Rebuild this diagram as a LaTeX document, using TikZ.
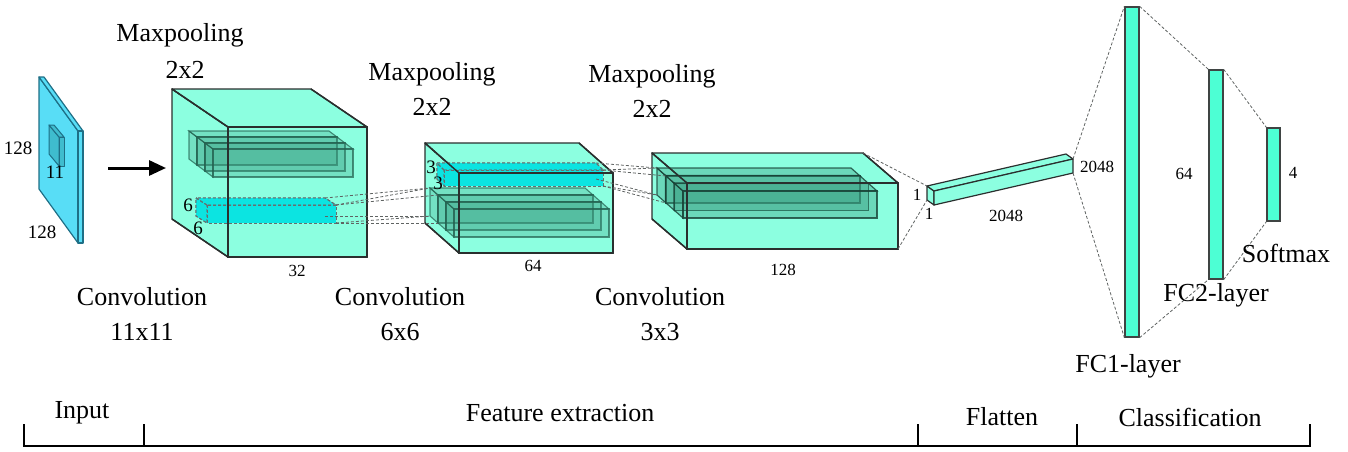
\documentclass[tikz,border=0pt]{standalone}
\usepackage{fontspec}
\setmainfont{Liberation Serif}
\usetikzlibrary{arrows.meta}

\newcommand{\Unit}{1pt}
\newcommand{\Edge}{1.4pt}
\newcommand{\LabelFont}{\fontsize{26}{30}\selectfont}
\newcommand{\DimFont}{\fontsize{17}{20}\selectfont}
\newcommand{\TickFont}{\fontsize{19}{22}\selectfont}
\definecolor{plate}{HTML}{58DDF6}
\definecolor{plateedge}{HTML}{1E6F86}
\definecolor{kernel}{HTML}{3FBCCE}
\definecolor{volume}{HTML}{8CFFE0}
\definecolor{dense}{HTML}{4DFFD4}
\definecolor{slab}{HTML}{3A9E82}
\definecolor{window}{HTML}{00E2E2}
\definecolor{ink}{HTML}{2A2F2E}

% a box seen from the front: front face at (#3,#4), #5 wide, #6 high,
% the back face pushed up and left by (#7,#8); corners are named #1-...
\newcommand{\Prism}[8]{%
  \path (#3,#4) coordinate (#1-ftl) ++(#5,0) coordinate (#1-ftr)
        ++(0,#6) coordinate (#1-fbr) ++(-#5,0) coordinate (#1-fbl);
  \path (#1-ftl) ++(-#7,-#8) coordinate (#1-btl) ++(#5,0) coordinate (#1-btr)
        ++(0,#6) coordinate (#1-bbr) ++(-#5,0) coordinate (#1-bbl);
  \draw[#2] (#1-ftl) -- (#1-btl) -- (#1-bbl) -- (#1-fbl) -- cycle;
  \draw[#2] (#1-ftl) -- (#1-btl) -- (#1-btr) -- (#1-ftr) -- cycle;
  \draw[#2] (#1-ftl) rectangle (#1-fbr);
}

\tikzset{
  platebox/.style={fill=plate, draw=plateedge, line width=1.2pt, line join=round},
  kernelbox/.style={fill=kernel, draw=plateedge, line width=1pt, line join=round},
  volumebox/.style={fill=volume, draw=ink, line width=\Edge, line join=round},
  volumeedge/.style={draw=ink, line width=\Edge, line join=round},
  featslab/.style={fill=slab, fill opacity=0.3, draw=slab!60!black,
    draw opacity=0.7, line width=1.1pt},
  deepslab/.style={fill=slab, fill opacity=0.4, draw=slab!40!black,
    draw opacity=0.8, line width=1.2pt},
  windowbox/.style={fill=window, fill opacity=0.55, draw=ink!70,
    dash pattern=on 3pt off 2pt, line width=0.9pt},
  barbox/.style={fill=volume, draw=ink, line width=1.2pt, line join=round},
  fcbar/.style={fill=dense, draw=ink!90, line width=1.3pt, inner sep=0pt},
  link/.style={draw=ink!75, dash pattern=on 3pt off 2pt, line width=0.8pt},
  caption/.style={font=\LabelFont, inner sep=0pt},
  dim/.style={font=\DimFont, inner sep=0pt},
  bracket/.style={line width=2.4pt, line cap=butt}
}

\begin{document}
\begin{tikzpicture}[x=\Unit,y=-\Unit]
  \useasboundingbox (0,0) rectangle (1348,451);

  % ---- input image with its kernel -----------------------------------------
  \Prism{inp}{platebox}{78}{131}{5}{112}{39}{54}
  \Prism{ker}{kernelbox}{59}{137}{5}{29}{10}{12}
  \node[font=\TickFont, inner sep=0pt] (inp-h) at (18,148) {128};
  \node[font=\TickFont, inner sep=0pt] (inp-w) at (42,232) {128};
  \node[font=\TickFont, inner sep=0pt] (ker-k) at (55,172) {11};

  \coordinate (into) at (108,168);
  \coordinate (c1-in) at (166,168);
  \draw[line width=3pt, -{Triangle[length=17pt,width=15pt]}] (into) -- (c1-in);

  % ---- first convolution block ---------------------------------------------
  \Prism{c1}{volumebox}{228}{127}{139}{130}{56}{38}
  \foreach \k in {0,1,2}
    \Prism{c1s\k}{featslab}{197+8*\k}{137+6*\k}{140}{28}{8}{6}
  \Prism{c1w}{windowbox}{207}{205}{129}{18}{11}{7}
  \draw[volumeedge] (c1-ftl) rectangle (c1-fbr);
  \draw[volumeedge] (c1-btl) -- (c1-ftl) (c1-btr) -- (c1-ftr) (c1-bbl) -- (c1-fbl);
  \node[dim, font=\TickFont] (c1w-a) at (188,205) {6};
  \node[dim, font=\TickFont] (c1w-b) at (198,228) {6};
  \node[dim] (c1-d) at (297,271) {32};

  % ---- second block --------------------------------------------------------
  \Prism{c2}{volumebox}{459}{173}{154}{80}{34}{30}
  \foreach \k in {0,1,2}
    \Prism{c2s\k}{featslab}{438+8*\k}{195+7*\k}{155}{28}{8}{7}
  \Prism{c2w}{windowbox}{444}{170}{159}{16}{7}{7}
  \draw[volumeedge] (c2-ftl) rectangle (c2-fbr);
  \draw[volumeedge] (c2-btl) -- (c2-ftl) (c2-btr) -- (c2-ftr) (c2-bbl) -- (c2-fbl);
  \node[dim, font=\TickFont] (c2w-a) at (431,167) {3};
  \node[dim, font=\TickFont] (c2w-b) at (438,183) {3};
  \node[dim] (c2-d) at (533,266) {64};

  % receptive field of the 6x6 window
  \foreach \a/\b in {btr/btl, ftr/ftl, ftr/btl, fbr/fbl, fbr/bbl, bbr/bbl}
    \draw[link] (c1w-\a) -- (c2s0-\b);

  % ---- third block ---------------------------------------------------------
  \Prism{c3}{volumebox}{687}{183}{211}{66}{35}{30}
  \foreach \k in {0,1,2}
    \Prism{c3s\k}{deepslab}{666+8.5*\k}{176+7.5*\k}{194}{27}{9}{8}
  \draw[volumeedge] (c3-ftl) rectangle (c3-fbr);
  \draw[volumeedge] (c3-btl) -- (c3-ftl) (c3-btr) -- (c3-ftr) (c3-bbl) -- (c3-fbl);
  \node[dim] (c3-d) at (783,270) {128};

  \foreach \a/\b in {btr/btl, ftr/ftl, ftr/btl, fbr/fbl, fbr/bbl, bbr/bbl}
    \draw[link] (c2w-\a) -- (c3s0-\b);

  % ---- flatten -------------------------------------------------------------
  \coordinate (fl-0) at (927,186);
  \coordinate (fl-1) at (934,191);
  \coordinate (fl-2) at (934,205);
  \coordinate (fl-3) at (927,200);
  \coordinate (fl-4) at (1066,154);
  \coordinate (fl-5) at (1073,159);
  \coordinate (fl-6) at (1073,173);
  \draw[barbox] (fl-0) -- (fl-1) -- (fl-2) -- (fl-3) -- cycle;
  \draw[barbox] (fl-0) -- (fl-4) -- (fl-5) -- (fl-1) -- cycle;
  \draw[barbox] (fl-1) -- (fl-5) -- (fl-6) -- (fl-2) -- cycle;
  \draw[link] (c3-btr) -- (fl-0);
  \draw[link] (c3-fbr) -- (fl-3);
  \node[dim] (fl-h) at (917,195) {1};
  \node[dim] (fl-w) at (929,214) {1};
  \node[dim] (fl-l) at (1006,216) {2048};

  % ---- dense layers --------------------------------------------------------
  \node[fcbar, minimum width=14, minimum height=330] (fc1) at (1132,172) {};
  \node[fcbar, minimum width=14, minimum height=209] (fc2) at (1216,174.5) {};
  \node[fcbar, minimum width=13, minimum height=93] (out) at (1273.5,174.5) {};
  \draw[link] (fl-5) -- (fc1.north west);
  \draw[link] (fl-6) -- (fc1.south west);
  \draw[link] (fc1.north east) -- (fc2.north west);
  \draw[link] (fc1.south east) -- (fc2.south west);
  \draw[link] (fc2.north east) -- (out.north west);
  \draw[link] (fc2.south east) -- (out.south west);
  \node[dim] (fc1-n) at (1097,167) {2048};
  \node[dim] (fc2-n) at (1184,174) {64};
  \node[dim] (out-n) at (1293,173) {4};

  % ---- captions ------------------------------------------------------------
  \node[caption] (pool1) at (180,35) {Maxpooling};
  \node[caption] (pool1-k) at (185,70) {2x2};
  \node[caption] (pool2) at (432,74) {Maxpooling};
  \node[caption] (pool2-k) at (432,107) {2x2};
  \node[caption] (pool3) at (652,76) {Maxpooling};
  \node[caption] (pool3-k) at (652,109) {2x2};
  \node[caption] (conv1) at (142,297) {Convolution};
  \node[caption] (conv1-k) at (142,332) {11x11};
  \node[caption] (conv2) at (400,297) {Convolution};
  \node[caption] (conv2-k) at (400,332) {6x6};
  \node[caption] (conv3) at (660,297) {Convolution};
  \node[caption] (conv3-k) at (660,332) {3x3};
  \node[caption] (soft) at (1286,253) {Softmax};
  \node[caption] (fc2-t) at (1216,295) {FC2-layer};
  \node[caption] (fc1-t) at (1128,366) {FC1-layer};

  % ---- stages along the bottom ---------------------------------------------
  \foreach \n/\x in {s0/24, s1/144, s2/918, s3/1077, s4/1310} {
    \coordinate (\n) at (\x,446);
    \draw[bracket] (\n) -- ++(0,-22);
  }
  \draw[bracket] ([xshift=-1.2pt]s0) -- ([xshift=1.2pt]s4);
  \node[caption] (st-in) at (82,413) {Input};
  \node[caption] (st-fe) at (560,413) {Feature extraction};
  \node[caption] (st-fl) at (1002,417) {Flatten};
  \node[caption] (st-cl) at (1190,417) {Classification};

\end{tikzpicture}
\end{document}
